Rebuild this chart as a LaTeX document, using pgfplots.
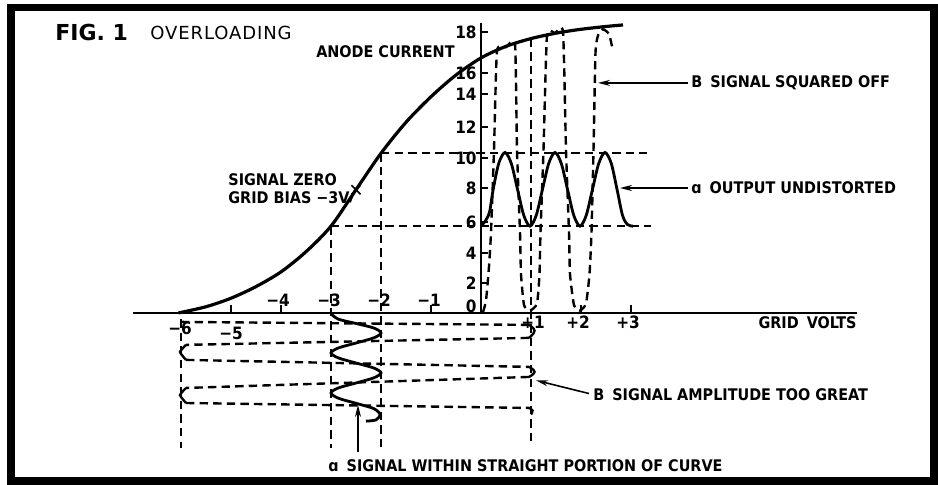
\documentclass[border=0pt]{standalone}
\usepackage{pgfplots}
\pgfplotsset{compat=1.18}
\usepackage{fontspec}
\setmainfont{DejaVu Sans}
\newfontfamily\labfont{DejaVu Sans Condensed}
\newfontfamily\figfont{DejaVu Sans}[LetterSpace=5]
\usetikzlibrary{arrows.meta}
\newcommand\lab{\labfont\bfseries\fontsize{8}{10}\selectfont}
\newcommand\tl{\labfont\bfseries\fontsize{8.5}{10}\selectfont}
\begin{document}
\begin{tikzpicture}
\begin{axis}[
  scale only axis, width=469pt, height=242.5pt,
  xmin=-9.62, xmax=9.14, ymin=-11.10, ymax=20.19,
  hide axis, clip=false,
  dsh/.style={line width=1.2pt, dash pattern=on 4.2pt off 2.6pt},
  hk/.style={line width=1.2pt, smooth, tension=0.8},
  hkl/.style={line width=1.2pt, smooth, tension=0.3},
]
\path (rel axis cs:0,0) rectangle (rel axis cs:1,1);
% frame
\draw[line width=3.6pt] (axis cs:-9.40,-10.84) rectangle (axis cs:9.06,19.71);

% axes
\draw[line width=1pt] (axis cs:-6.96,0) -- (axis cs:7.52,0);
\draw[line width=1pt] (axis cs:0,0) -- (axis cs:0,18.7);

% y ticks and labels
\draw[line width=0.8pt] (axis cs:0,18.13) -- (axis cs:0.14,18.13);
\draw[line width=0.8pt] (axis cs:0,15.48) -- (axis cs:0.14,15.48);
\draw[line width=0.8pt] (axis cs:0,14.13) -- (axis cs:0.14,14.13);
\draw[line width=0.8pt] (axis cs:0,12.00) -- (axis cs:0.14,12.00);
\draw[line width=0.8pt] (axis cs:0,10.00) -- (axis cs:0.14,10.00);
\draw[line width=0.8pt] (axis cs:0,8.06) -- (axis cs:0.14,8.06);
\draw[line width=0.8pt] (axis cs:0,5.87) -- (axis cs:0.14,5.87);
\draw[line width=0.8pt] (axis cs:0,3.87) -- (axis cs:0.14,3.87);
\draw[line width=0.8pt] (axis cs:0,1.94) -- (axis cs:0.14,1.94);
\node[anchor=east, inner sep=1pt, font=\tl] at (axis cs:-0.04,18.13) {18};
\node[anchor=east, inner sep=1pt, font=\tl] at (axis cs:-0.04,15.48) {16};
\node[anchor=east, inner sep=1pt, font=\tl] at (axis cs:-0.04,14.13) {14};
\node[anchor=east, inner sep=1pt, font=\tl] at (axis cs:-0.04,12.00) {12};
\node[anchor=east, inner sep=1pt, font=\tl] at (axis cs:-0.04,10.00) {10};
\node[anchor=east, inner sep=1pt, font=\tl] at (axis cs:-0.04,8.06) {8};
\node[anchor=east, inner sep=1pt, font=\tl] at (axis cs:-0.04,5.87) {6};
\node[anchor=east, inner sep=1pt, font=\tl] at (axis cs:-0.04,3.87) {4};
\node[anchor=east, inner sep=1pt, font=\tl] at (axis cs:-0.04,1.94) {2};
\node[anchor=east, inner sep=1pt, font=\tl] at (axis cs:-0.04,0.45) {0};

% x ticks and labels
\draw[line width=0.8pt] (axis cs:-5,0) -- (axis cs:-5,0.5);
\draw[line width=0.8pt] (axis cs:-4,0) -- (axis cs:-4,0.5);
\draw[line width=0.8pt] (axis cs:-1,0) -- (axis cs:-1,0.5);
\draw[line width=0.8pt] (axis cs:2,0) -- (axis cs:2,0.5);
\draw[line width=0.8pt] (axis cs:3,0) -- (axis cs:3,0.5);
\node[font=\tl] at (axis cs:-6.02,-0.97) {−6};
\node[font=\tl] at (axis cs:-5.0,-1.29) {−5};
\node[font=\tl] at (axis cs:-4.06,0.84) {−4};
\node[font=\tl] at (axis cs:-3.04,0.84) {−3};
\node[font=\tl] at (axis cs:-2.04,0.84) {−2};
\node[font=\tl] at (axis cs:-1.04,0.84) {−1};
\node[font=\tl] at (axis cs:1.04,-0.62) {+1};
\node[font=\tl] at (axis cs:1.94,-0.62) {+2};
\node[font=\tl] at (axis cs:2.94,-0.62) {+3};
\node[anchor=east, inner sep=0pt, font=\lab] at (axis cs:7.52,-0.65) {GRID\enspace VOLTS};

% characteristic curve
\addplot[line width=1.6pt, smooth] coordinates {
(-6.05,0) (-5.5,0.4) (-5,0.95) (-4.5,1.7) (-4,2.65) (-3.5,3.95) (-3,5.6)
(-2.5,7.95) (-2,10.3) (-1.5,12.3) (-1,13.95) (-0.5,15.35) (0,16.45) (0.5,17.2)
(1,17.7) (1.5,18.05) (2,18.3) (2.5,18.48) (2.84,18.58)};
\addplot[only marks, mark=x, mark size=3.2pt, line width=0.8pt] coordinates {(-2.5,7.95)};

% dashed projection lines
\addplot[dsh] coordinates {(-2,10.3) (3.32,10.3)};
\addplot[dsh] coordinates {(-3,5.6) (3.4,5.6)};
\addplot[dsh] coordinates {(-3,5.6) (-3,-8.7)};
\addplot[dsh] coordinates {(-2,10.3) (-2,-8.7)};
\addplot[dsh] coordinates {(-6,-0.4) (-6,-8.7)};
\addplot[dsh] coordinates {(1,17.7) (1,-8.6)};

% input signal a (solid)
\addplot[line width=1.4pt, smooth] coordinates {
(-3,-0.05)
(-2.854,-0.4) (-2.5,-0.68) (-2.146,-0.97) (-2,-1.29)
(-2.146,-1.61) (-2.5,-1.94) (-2.854,-2.26) (-3,-2.58)
(-2.854,-2.9) (-2.5,-3.23) (-2.146,-3.55) (-2,-3.87)
(-2.146,-4.19) (-2.5,-4.52) (-2.854,-4.84) (-3,-5.16)
(-2.854,-5.5) (-2.5,-5.83) (-2.146,-6.17) (-2.02,-6.55) (-2.1,-6.9) (-2.3,-6.98)};

% input signal B (dashed lines with hooks)
\addplot[dsh] coordinates {(-6,-0.58) (0.96,-0.77)};
\addplot[hk] coordinates {(0.96,-0.77) (1.07,-1.15) (0.96,-1.61)};
\addplot[dsh] coordinates {(0.96,-1.61) (-5.9,-2.06)};
\addplot[hkl] coordinates {(-5.9,-2.06) (-6.02,-2.52) (-5.9,-3.03)};
\addplot[dsh] coordinates {(-5.9,-3.03) (0.96,-3.48)};
\addplot[hk] coordinates {(0.96,-3.48) (1.07,-3.8) (0.96,-4.13)};
\addplot[dsh] coordinates {(0.96,-4.13) (-5.9,-4.84)};
\addplot[hkl] coordinates {(-5.9,-4.84) (-6.02,-5.3) (-5.9,-5.81)};
\addplot[dsh] coordinates {(-5.9,-5.81) (0.96,-6.13)};
\addplot[hk] coordinates {(0.96,-6.13) (1.03,-6.3) (1.0,-6.55)};

% output a (solid)
\addplot[line width=1.4pt, smooth] coordinates {
(0.02,5.7) (0.08,5.9) (0.17,6.5) (0.24,7.9) (0.355,9.65) (0.48,10.35) (0.605,9.65) (0.73,7.98)
(0.855,6.3) (0.98,5.6) (1.105,6.3) (1.23,7.98) (1.355,9.65)
(1.48,10.35) (1.605,9.65) (1.73,7.98) (1.855,6.3) (1.98,5.6) (2.105,6.3) (2.23,7.98) (2.355,9.65)
(2.48,10.35) (2.605,9.65) (2.72,7.98) (2.83,6.3) (2.93,5.7) (3.04,5.6)};

% output B (dashed)
\addplot[dsh, smooth, tension=0.3] coordinates {
(0.04,0.05) (0.1,0.8) (0.16,3) (0.2,5.2) (0.26,10.5) (0.32,16.9) (0.5,17.15) (0.68,17.35)
(0.72,10.5) (0.78,5.2) (0.8,2.5) (0.86,0.5) (0.98,0.15) (1.12,0.6) (1.17,2.5) (1.19,5.2)
(1.25,10.5) (1.32,17.9) (1.48,18.05) (1.64,18.15) (1.70,10.5) (1.76,5.2) (1.78,2.5)
(1.86,0.5) (1.98,0.15) (2.1,0.6) (2.17,2.5) (2.21,5.2) (2.25,10.5) (2.29,16.8)
(2.34,17.9) (2.44,18.3) (2.56,18.0) (2.62,17.2)};

% titles and annotations
\node[anchor=west, inner sep=0pt, font=\bfseries\fontsize{11}{13}\selectfont] at (axis cs:-8.52,18.1) {FIG. 1};
\node[anchor=west, inner sep=0pt, font=\figfont\fontsize{9}{10}\selectfont] at (axis cs:-6.62,18.06) {OVERLOADING};
\node[anchor=east, inner sep=0pt, font=\lab] at (axis cs:-0.52,16.84) {ANODE CURRENT};
\node[anchor=west, inner sep=0pt, font=\lab] at (axis cs:-5.06,8.58) {SIGNAL ZERO};
\node[anchor=west, inner sep=0pt, font=\lab] (gb) at (axis cs:-5.06,7.42) {GRID BIAS −3V};
\draw[line width=0.8pt] ([yshift=1pt]gb.south east) -- (axis cs:-2.52,7.95);

\node[anchor=west, inner sep=0pt, font=\lab] at (axis cs:4.2,14.84) {B\enspace SIGNAL SQUARED OFF};
\draw[line width=0.8pt, -{Stealth[length=6pt,width=3pt]}] (axis cs:4.14,14.84) -- (axis cs:2.34,14.84);
\node[anchor=west, inner sep=0pt, font=\lab] at (axis cs:4.2,8.06) {ɑ\enspace OUTPUT UNDISTORTED};
\draw[line width=0.8pt, -{Stealth[length=6pt,width=3pt]}] (axis cs:4.14,8.06) -- (axis cs:2.78,8.06);
\node[anchor=west, inner sep=0pt, font=\lab] at (axis cs:2.24,-5.29) {B\enspace SIGNAL AMPLITUDE TOO GREAT};
\draw[line width=0.8pt, -{Stealth[length=6pt,width=3pt]}] (axis cs:2.16,-5.2) -- (axis cs:1.1,-4.35);
\node[anchor=west, inner sep=0pt, font=\lab] at (axis cs:-3.06,-9.87) {ɑ\enspace SIGNAL WITHIN STRAIGHT PORTION OF CURVE};
\draw[line width=0.8pt, -{Stealth[length=6pt,width=3pt]}] (axis cs:-2.46,-8.97) -- (axis cs:-2.46,-5.94);
\end{axis}
\end{tikzpicture}
\end{document}
